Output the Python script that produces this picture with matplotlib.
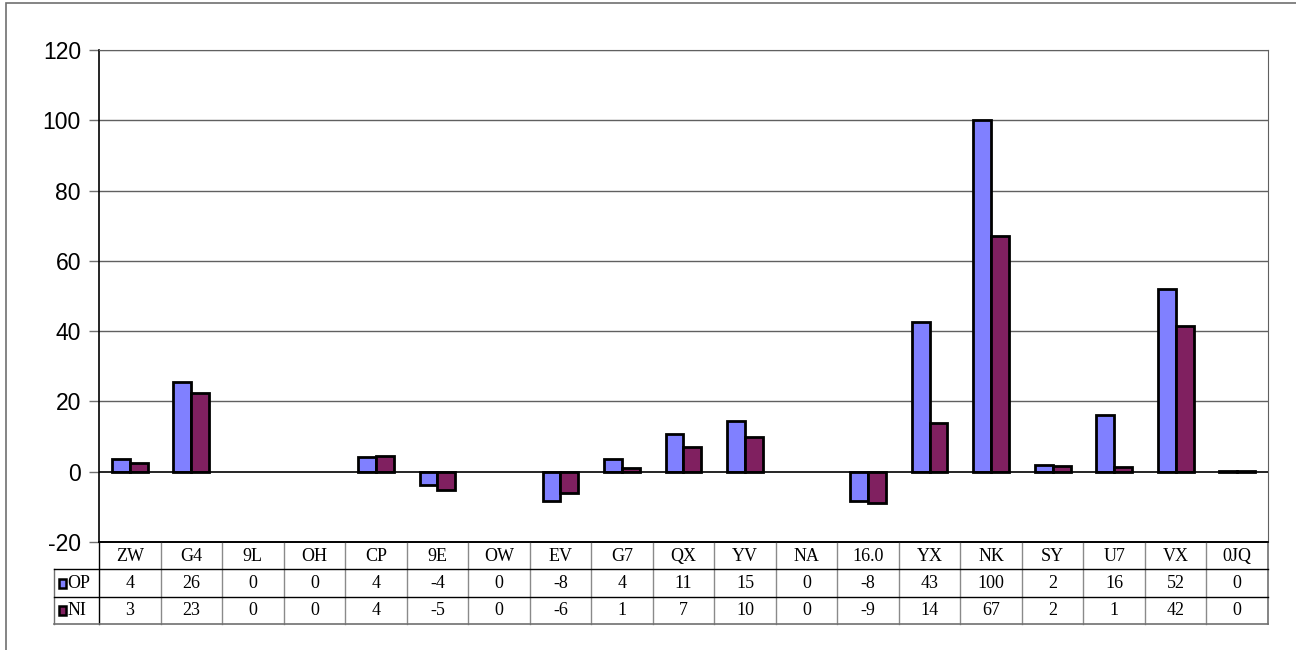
import matplotlib
matplotlib.use("Agg")
import matplotlib.pyplot as plt
from matplotlib.patches import Rectangle

categories = ["ZW", "G4", "9L", "OH", "CP", "9E", "OW", "EV", "G7", "QX",
              "YV", "NA", "16.0", "YX", "NK", "SY", "U7", "VX", "0JQ"]
op_values = [3.7, 25.4, 0, 0, 4.3, -3.7, 0, -8.3, 3.7, 10.8,
             14.5, 0, -8.3, 42.7, 100, 2.0, 16.0, 52.1, 0.2]
ni_values = [2.6, 22.5, 0, 0, 4.4, -5.1, 0, -6.0, 1.1, 7.1,
             10.0, 0, -8.8, 14.0, 67, 1.7, 1.4, 41.6, 0.2]
op_labels = ["4", "26", "0", "0", "4", "-4", "0", "-8", "4", "11",
             "15", "0", "-8", "43", "100", "2", "16", "52", "0"]
ni_labels = ["3", "23", "0", "0", "4", "-5", "0", "-6", "1", "7",
             "10", "0", "-9", "14", "67", "2", "1", "42", "0"]
series_names = ["OP", "NI"]
yticks = [-20, 0, 20, 40, 60, 80, 100, 120]

W, H = 1296, 650
fig = plt.figure(figsize=(W / 100, H / 100), dpi=100)
fig.patch.set_facecolor("white")

# outer frame
fig.add_artist(Rectangle((6 / W, 1 - 660 / H), (1310 - 6) / W, (660 - 3) / H,
                         transform=fig.transFigure, fill=False,
                         edgecolor="#707070", linewidth=1.2))

L, R, T, B = 99, 1268, 50, 542
ax = fig.add_axes([L / W, 1 - B / H, (R - L) / W, (B - T) / H])
n = len(categories)
ax.set_xlim(0, n)
ax.set_ylim(-20, 120)

op_color = "#8080FF"
ni_color = "#802060"
bw = 0.29
xs = [i + 0.5 for i in range(n)]
op_idx = [i for i in range(n) if op_values[i] != 0]
ni_idx = [i for i in range(n) if ni_values[i] != 0]
ax.bar([xs[i] - bw / 2 for i in op_idx], [op_values[i] for i in op_idx], width=bw,
       color=op_color, edgecolor="black", linewidth=2, zorder=3)
ax.bar([xs[i] + bw / 2 for i in ni_idx], [ni_values[i] for i in ni_idx], width=bw,
       color=ni_color, edgecolor="black", linewidth=2, zorder=3)

ax.set_yticks(yticks)
ax.set_yticklabels([str(v) for v in yticks], fontsize=16.5, family="Liberation Sans")
ax.tick_params(axis="y", length=7, width=1, color="#707070", pad=6)
ax.set_xticks([])
for y in yticks:
    if y not in (-20, 0):
        ax.axhline(y, color="#606060", linewidth=1, zorder=1)
ax.axhline(0, color="black", linewidth=1.2, zorder=4)
ax.spines["left"].set_color("black")
ax.spines["left"].set_linewidth(1.2)
ax.spines["bottom"].set_color("black")
ax.spines["bottom"].set_linewidth(1.2)
ax.spines["top"].set_color("#606060")
ax.spines["right"].set_color("#606060")

# data table
TL, TT, TB = 54, 542, 624
tax = fig.add_axes([TL / W, 1 - TB / H, (R - TL) / W, (TB - TT) / H])
colw = (R - L) / n
tax.set_xlim(-(L - TL) / colw, n)
tax.set_ylim(3, 0)
tax.axis("off")
xl = -(L - TL) / colw
serif = "Liberation Serif"
fs = 13
for i, c in enumerate(categories):
    tax.text(i + 0.5, 0.52, c, ha="center", va="center", fontsize=fs, family=serif)
    tax.text(i + 0.5, 1.52, op_labels[i], ha="center", va="center", fontsize=fs, family=serif)
    tax.text(i + 0.5, 2.52, ni_labels[i], ha="center", va="center", fontsize=fs, family=serif)
# grid lines
for i in range(1, n):
    tax.plot([i, i], [0, 3], color="#8a8a8a", linewidth=1, clip_on=False)
tax.plot([n, n], [0, 3], color="#707070", linewidth=1.2, clip_on=False)
tax.plot([0, 0], [0, 3], color="black", linewidth=1, clip_on=False)
tax.plot([xl, xl], [1, 3], color="#707070", linewidth=1, clip_on=False)
tax.plot([0, n], [0, 0], color="black", linewidth=1.2, clip_on=False)
for yy in (1, 2):
    tax.plot([xl, n], [yy, yy], color="black", linewidth=1, clip_on=False)
tax.plot([xl, n], [3, 3], color="#707070", linewidth=1.2, clip_on=False)
# legend keys
for k, (name, col) in enumerate(zip(series_names, [op_color, ni_color])):
    yk = 1.5 + k
    tax.add_patch(Rectangle((xl + 0.08, yk - 0.15), 0.12, 0.32, facecolor=col,
                            edgecolor="black", linewidth=1.8, clip_on=False))
    tax.text(xl + 0.22, yk + 0.02, name, ha="left", va="center", fontsize=fs, family=serif)

fig.savefig("out.png", dpi=100)
